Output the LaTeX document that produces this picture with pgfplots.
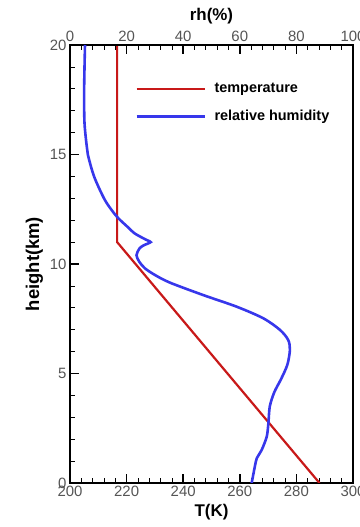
\documentclass[border=0pt]{standalone}
\usepackage{fontspec}
\setmainfont{Liberation Sans}
\usepackage{pgfplots}
\pgfplotsset{compat=1.18}
\definecolor{tred}{RGB}{200,25,25}
\definecolor{rhblue}{RGB}{55,55,235}
\definecolor{tickgray}{RGB}{85,85,85}
\pgfplotsset{
  common/.style={
    scale only axis, width=283bp, height=438bp,
    at={(0,0)}, anchor=south west,
    ymin=0, ymax=20,
    axis line style={line width=1.5bp, black},
    tick style={black},
    major tick style={line width=1.5bp, black},
    minor tick style={line width=0.7bp, black},
    major tick length=9bp, minor tick length=5bp,
    tick align=inside,
    /pgf/number format/assume math mode=true,
    ticklabel style={font=\fontsize{15}{17}\selectfont, text=tickgray},
    label style={font=\bfseries\fontsize{17}{19}\selectfont},
  }
}
\begin{document}
\begin{tikzpicture}
\begin{axis}[common,
  xmin=200, xmax=300,
  xtick={200,220,...,300}, minor x tick num=4,
  ytick={0,5,...,20}, minor y tick num=4,
  xtick pos=bottom, ytick pos=left,
  xlabel={T(K)}, ylabel={height(km)},
  ylabel style={font=\bfseries\fontsize{18.5}{20}\selectfont},
]
\addplot[tred, line width=2.2bp] coordinates {(216.65,20) (216.65,11) (288.15,0)};
\end{axis}
\begin{axis}[common,
  xmin=0, xmax=100,
  axis x line*=top, axis y line=none,
  xtick={0,20,...,100}, minor x tick num=4,
  xlabel={rh(\%)},
  legend style={draw=none, fill=none, at={(0.2297,0.917)}, anchor=north west,
    inner sep=0pt, font=\bfseries\fontsize{14.5}{16}\selectfont, row sep=12bp},
  legend cell align=left,
  legend image code/.code={\draw[#1] (0bp,0bp) -- (68bp,0bp); \path[draw=none] (0bp,0bp) -- (76bp,0bp);},
]
\addlegendimage{tred, line width=2.2bp}
\addlegendentry{temperature}
\addplot[rhblue, line width=2.6bp, smooth] coordinates {
(5.3,20) (5.0,18) (5.1,16.5) (5.8,15.5) (6.3,15) (8.5,14) (12.0,13) (14.5,12.5)
(17,12.1) (20.3,11.7) (22.8,11.4) (27,11.1) (28.5,11.0) (26,10.85) (24.5,10.7)
(23.5,10.4) (24.5,10.1) (26.5,9.8) (30,9.5) (35.3,9.15) (47.1,8.58) (58.9,8.05)
(68.3,7.52) (74.2,6.99) (77.1,6.53) (77.7,6.07) (76.8,5.4) (74.6,4.75) (72.2,4.15)
(70.6,3.5) (70.1,2.72) (69.5,2.11) (67.7,1.5) (66.0,1.13) (65.3,0.74) (64.2,0)};
\addlegendentry{relative humidity}
\end{axis}
\pgfresetboundingbox
\useasboundingbox (-70bp,-44bp) rectangle (290bp,483bp);
\end{tikzpicture}
\end{document}
